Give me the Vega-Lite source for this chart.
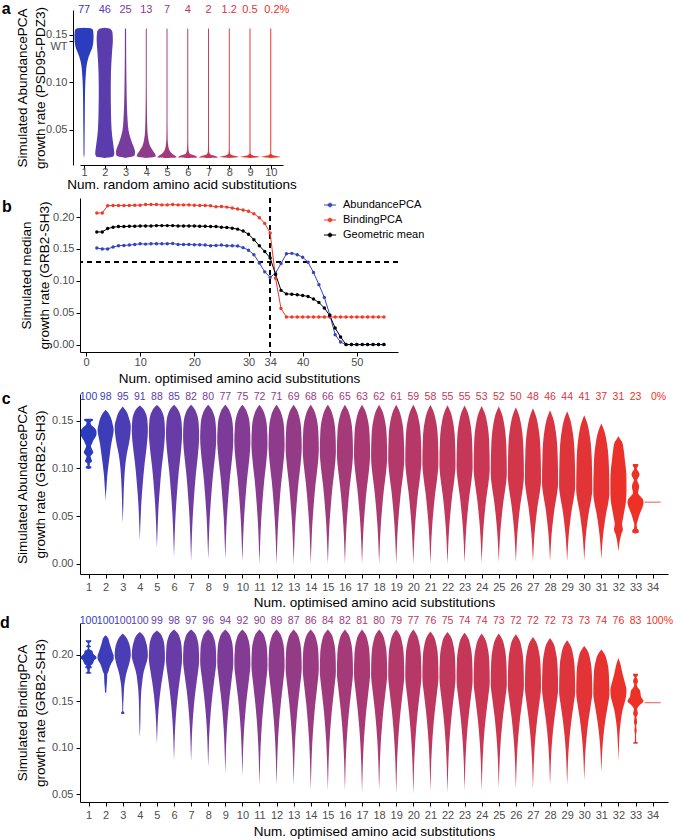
{
"$schema": "https://vega.github.io/schema/vega-lite/v6.json",
"padding": {"left": 0, "top": 1, "right": 4, "bottom": 2},
"align": "none",
"spacing": 6,
"config": {
 "font": "Liberation Sans",
 "view": {"stroke": null},
 "axis": {"grid": false, "domainColor": "#000", "tickColor": "#000", "labelColor": "#4D4D4D", "labelFontSize": 11, "titleFontSize": 13.5, "titleFontWeight": "normal", "titleColor": "#000", "tickSize": 4, "labelFont": "Liberation Sans", "titleFont": "Liberation Sans", "titleLineHeight": 18, "labelOverlap": false, "labelFlush": false, "labelBound": false, "tickCount": 40},
 "title": {"fontSize": 16, "fontWeight": "bold", "color": "#000", "font": "Liberation Sans"},
 "text": {"font": "Liberation Sans"}
},
"resolve": {"scale": {"color": "independent"}, "legend": {"color": "independent"}},
"datasets": {
 "va": [
  {"n":1,"g":0.1576,"w":0},{"n":1,"g":0.157,"w":0.7},{"n":1,"g":0.155,"w":0.95},{"n":1,"g":0.148,"w":1},{"n":1,"g":0.142,"w":0.97},{"n":1,"g":0.136,"w":0.85},{"n":1,"g":0.13,"w":0.6},{"n":1,"g":0.124,"w":0.4},{"n":1,"g":0.118,"w":0.28},{"n":1,"g":0.11,"w":0.2},{"n":1,"g":0.1,"w":0.14},{"n":1,"g":0.085,"w":0.1},{"n":1,"g":0.06,"w":0.08},{"n":1,"g":0.04,"w":0.06},{"n":1,"g":0.025,"w":0.05},{"n":1,"g":0.0205,"w":0},
  {"n":2,"g":0.1576,"w":0},{"n":2,"g":0.1565,"w":0.55},{"n":2,"g":0.153,"w":0.8},{"n":2,"g":0.145,"w":0.85},{"n":2,"g":0.13,"w":0.75},{"n":2,"g":0.11,"w":0.65},{"n":2,"g":0.09,"w":0.63},{"n":2,"g":0.07,"w":0.65},{"n":2,"g":0.05,"w":0.72},{"n":2,"g":0.04,"w":0.82},{"n":2,"g":0.03,"w":0.95},{"n":2,"g":0.025,"w":1},{"n":2,"g":0.022,"w":0.9},{"n":2,"g":0.0205,"w":0},
  {"n":3,"g":0.1574,"w":0},{"n":3,"g":0.156,"w":0.06},{"n":3,"g":0.13,"w":0.07},{"n":3,"g":0.1,"w":0.1},{"n":3,"g":0.078,"w":0.14},{"n":3,"g":0.06,"w":0.22},{"n":3,"g":0.05,"w":0.31},{"n":3,"g":0.042,"w":0.5},{"n":3,"g":0.036,"w":0.7},{"n":3,"g":0.031,"w":0.9},{"n":3,"g":0.027,"w":1},{"n":3,"g":0.023,"w":0.95},{"n":3,"g":0.0205,"w":0},
  {"n":4,"g":0.1574,"w":0},{"n":4,"g":0.156,"w":0.05},{"n":4,"g":0.1,"w":0.05},{"n":4,"g":0.07,"w":0.07},{"n":4,"g":0.05,"w":0.12},{"n":4,"g":0.04,"w":0.22},{"n":4,"g":0.033,"w":0.4},{"n":4,"g":0.028,"w":0.7},{"n":4,"g":0.025,"w":0.9},{"n":4,"g":0.022,"w":1},{"n":4,"g":0.0205,"w":0},
  {"n":5,"g":0.1574,"w":0},{"n":5,"g":0.156,"w":0.05},{"n":5,"g":0.06,"w":0.05},{"n":5,"g":0.04,"w":0.07},{"n":5,"g":0.032,"w":0.15},{"n":5,"g":0.027,"w":0.35},{"n":5,"g":0.024,"w":0.65},{"n":5,"g":0.022,"w":0.95},{"n":5,"g":0.021,"w":1},{"n":5,"g":0.0205,"w":0},
  {"n":6,"g":0.1574,"w":0},{"n":6,"g":0.156,"w":0.05},{"n":6,"g":0.04,"w":0.05},{"n":6,"g":0.03,"w":0.07},{"n":6,"g":0.026,"w":0.15},{"n":6,"g":0.024,"w":0.4},{"n":6,"g":0.0225,"w":0.85},{"n":6,"g":0.021,"w":1},{"n":6,"g":0.0205,"w":0},
  {"n":7,"g":0.1574,"w":0},{"n":7,"g":0.156,"w":0.05},{"n":7,"g":0.035,"w":0.05},{"n":7,"g":0.027,"w":0.07},{"n":7,"g":0.024,"w":0.2},{"n":7,"g":0.0225,"w":0.7},{"n":7,"g":0.021,"w":1},{"n":7,"g":0.0205,"w":0},
  {"n":8,"g":0.1574,"w":0},{"n":8,"g":0.156,"w":0.05},{"n":8,"g":0.03,"w":0.05},{"n":8,"g":0.025,"w":0.08},{"n":8,"g":0.023,"w":0.4},{"n":8,"g":0.0215,"w":1},{"n":8,"g":0.0205,"w":0},
  {"n":9,"g":0.1574,"w":0},{"n":9,"g":0.156,"w":0.05},{"n":9,"g":0.03,"w":0.05},{"n":9,"g":0.025,"w":0.06},{"n":9,"g":0.023,"w":0.3},{"n":9,"g":0.0215,"w":1},{"n":9,"g":0.0205,"w":0},
  {"n":10,"g":0.1574,"w":0},{"n":10,"g":0.156,"w":0.05},{"n":10,"g":0.03,"w":0.05},{"n":10,"g":0.025,"w":0.05},{"n":10,"g":0.023,"w":0.3},{"n":10,"g":0.0215,"w":1},{"n":10,"g":0.0205,"w":0}
 ],
 "la": [{"n":1,"t":"77"},{"n":2,"t":"46"},{"n":3,"t":"25"},{"n":4,"t":"13"},{"n":5,"t":"7"},{"n":6,"t":"4"},{"n":7,"t":"2"},{"n":8,"t":"1.2"},{"n":9,"t":"0.5"},{"n":10,"t":"0.2%"}],
 "pb": [
  {"n":2,"s":"AbundancePCA","v":0.1514},{"n":3,"s":"AbundancePCA","v":0.150},{"n":4,"s":"AbundancePCA","v":0.150},{"n":5,"s":"AbundancePCA","v":0.153},{"n":6,"s":"AbundancePCA","v":0.155},{"n":7,"s":"AbundancePCA","v":0.1555},{"n":8,"s":"AbundancePCA","v":0.156},{"n":9,"s":"AbundancePCA","v":0.157},{"n":10,"s":"AbundancePCA","v":0.158},{"n":11,"s":"AbundancePCA","v":0.1575},{"n":12,"s":"AbundancePCA","v":0.158},{"n":13,"s":"AbundancePCA","v":0.158},{"n":14,"s":"AbundancePCA","v":0.158},{"n":15,"s":"AbundancePCA","v":0.158},{"n":16,"s":"AbundancePCA","v":0.1585},{"n":17,"s":"AbundancePCA","v":0.157},{"n":18,"s":"AbundancePCA","v":0.157},{"n":19,"s":"AbundancePCA","v":0.157},{"n":20,"s":"AbundancePCA","v":0.1565},{"n":21,"s":"AbundancePCA","v":0.1565},{"n":22,"s":"AbundancePCA","v":0.156},{"n":23,"s":"AbundancePCA","v":0.155},{"n":24,"s":"AbundancePCA","v":0.1555},{"n":25,"s":"AbundancePCA","v":0.156},{"n":26,"s":"AbundancePCA","v":0.1548},{"n":27,"s":"AbundancePCA","v":0.155},{"n":28,"s":"AbundancePCA","v":0.1545},{"n":29,"s":"AbundancePCA","v":0.152},{"n":30,"s":"AbundancePCA","v":0.148},{"n":31,"s":"AbundancePCA","v":0.141},{"n":32,"s":"AbundancePCA","v":0.128},{"n":33,"s":"AbundancePCA","v":0.114},{"n":34,"s":"AbundancePCA","v":0.1055},{"n":35,"s":"AbundancePCA","v":0.112},{"n":36,"s":"AbundancePCA","v":0.127},{"n":37,"s":"AbundancePCA","v":0.1425},{"n":38,"s":"AbundancePCA","v":0.143},{"n":39,"s":"AbundancePCA","v":0.141},{"n":40,"s":"AbundancePCA","v":0.137},{"n":41,"s":"AbundancePCA","v":0.129},{"n":42,"s":"AbundancePCA","v":0.113},{"n":43,"s":"AbundancePCA","v":0.094},{"n":44,"s":"AbundancePCA","v":0.074},{"n":45,"s":"AbundancePCA","v":0.047},{"n":46,"s":"AbundancePCA","v":0.0155},{"n":47,"s":"AbundancePCA","v":0.004},{"n":48,"s":"AbundancePCA","v":0},{"n":49,"s":"AbundancePCA","v":0},{"n":50,"s":"AbundancePCA","v":0},{"n":51,"s":"AbundancePCA","v":0},{"n":52,"s":"AbundancePCA","v":0},{"n":53,"s":"AbundancePCA","v":0},{"n":54,"s":"AbundancePCA","v":0},{"n":55,"s":"AbundancePCA","v":0},
  {"n":2,"s":"BindingPCA","v":0.2063},{"n":3,"s":"BindingPCA","v":0.2063},{"n":4,"s":"BindingPCA","v":0.2178},{"n":5,"s":"BindingPCA","v":0.218},{"n":6,"s":"BindingPCA","v":0.218},{"n":7,"s":"BindingPCA","v":0.218},{"n":8,"s":"BindingPCA","v":0.218},{"n":9,"s":"BindingPCA","v":0.2185},{"n":10,"s":"BindingPCA","v":0.2185},{"n":11,"s":"BindingPCA","v":0.2195},{"n":12,"s":"BindingPCA","v":0.2195},{"n":13,"s":"BindingPCA","v":0.2195},{"n":14,"s":"BindingPCA","v":0.219},{"n":15,"s":"BindingPCA","v":0.219},{"n":16,"s":"BindingPCA","v":0.2195},{"n":17,"s":"BindingPCA","v":0.219},{"n":18,"s":"BindingPCA","v":0.219},{"n":19,"s":"BindingPCA","v":0.219},{"n":20,"s":"BindingPCA","v":0.2185},{"n":21,"s":"BindingPCA","v":0.218},{"n":22,"s":"BindingPCA","v":0.218},{"n":23,"s":"BindingPCA","v":0.2175},{"n":24,"s":"BindingPCA","v":0.216},{"n":25,"s":"BindingPCA","v":0.2165},{"n":26,"s":"BindingPCA","v":0.2155},{"n":27,"s":"BindingPCA","v":0.214},{"n":28,"s":"BindingPCA","v":0.2125},{"n":29,"s":"BindingPCA","v":0.211},{"n":30,"s":"BindingPCA","v":0.209},{"n":31,"s":"BindingPCA","v":0.205},{"n":32,"s":"BindingPCA","v":0.199},{"n":33,"s":"BindingPCA","v":0.19},{"n":34,"s":"BindingPCA","v":0.175},{"n":35,"s":"BindingPCA","v":0.104},{"n":36,"s":"BindingPCA","v":0.0565},{"n":37,"s":"BindingPCA","v":0.0433},{"n":38,"s":"BindingPCA","v":0.0433},{"n":39,"s":"BindingPCA","v":0.0433},{"n":40,"s":"BindingPCA","v":0.0433},{"n":41,"s":"BindingPCA","v":0.0433},{"n":42,"s":"BindingPCA","v":0.0433},{"n":43,"s":"BindingPCA","v":0.0433},{"n":44,"s":"BindingPCA","v":0.0433},{"n":45,"s":"BindingPCA","v":0.0433},{"n":46,"s":"BindingPCA","v":0.0433},{"n":47,"s":"BindingPCA","v":0.0433},{"n":48,"s":"BindingPCA","v":0.0433},{"n":49,"s":"BindingPCA","v":0.0433},{"n":50,"s":"BindingPCA","v":0.0433},{"n":51,"s":"BindingPCA","v":0.0433},{"n":52,"s":"BindingPCA","v":0.0433},{"n":53,"s":"BindingPCA","v":0.0433},{"n":54,"s":"BindingPCA","v":0.0433},{"n":55,"s":"BindingPCA","v":0.0433},
  {"n":2,"s":"Geometric mean","v":0.1766},{"n":3,"s":"Geometric mean","v":0.1766},{"n":4,"s":"Geometric mean","v":0.182},{"n":5,"s":"Geometric mean","v":0.184},{"n":6,"s":"Geometric mean","v":0.185},{"n":7,"s":"Geometric mean","v":0.185},{"n":8,"s":"Geometric mean","v":0.1855},{"n":9,"s":"Geometric mean","v":0.1855},{"n":10,"s":"Geometric mean","v":0.186},{"n":11,"s":"Geometric mean","v":0.186},{"n":12,"s":"Geometric mean","v":0.186},{"n":13,"s":"Geometric mean","v":0.1865},{"n":14,"s":"Geometric mean","v":0.1865},{"n":15,"s":"Geometric mean","v":0.1865},{"n":16,"s":"Geometric mean","v":0.1865},{"n":17,"s":"Geometric mean","v":0.186},{"n":18,"s":"Geometric mean","v":0.186},{"n":19,"s":"Geometric mean","v":0.186},{"n":20,"s":"Geometric mean","v":0.186},{"n":21,"s":"Geometric mean","v":0.1855},{"n":22,"s":"Geometric mean","v":0.1855},{"n":23,"s":"Geometric mean","v":0.185},{"n":24,"s":"Geometric mean","v":0.185},{"n":25,"s":"Geometric mean","v":0.184},{"n":26,"s":"Geometric mean","v":0.1835},{"n":27,"s":"Geometric mean","v":0.1825},{"n":28,"s":"Geometric mean","v":0.181},{"n":29,"s":"Geometric mean","v":0.178},{"n":30,"s":"Geometric mean","v":0.173},{"n":31,"s":"Geometric mean","v":0.1645},{"n":32,"s":"Geometric mean","v":0.155},{"n":33,"s":"Geometric mean","v":0.146},{"n":34,"s":"Geometric mean","v":0.1357},{"n":35,"s":"Geometric mean","v":0.11},{"n":36,"s":"Geometric mean","v":0.085},{"n":37,"s":"Geometric mean","v":0.0795},{"n":38,"s":"Geometric mean","v":0.079},{"n":39,"s":"Geometric mean","v":0.078},{"n":40,"s":"Geometric mean","v":0.077},{"n":41,"s":"Geometric mean","v":0.0755},{"n":42,"s":"Geometric mean","v":0.0715},{"n":43,"s":"Geometric mean","v":0.066},{"n":44,"s":"Geometric mean","v":0.0574},{"n":45,"s":"Geometric mean","v":0.0455},{"n":46,"s":"Geometric mean","v":0.026},{"n":47,"s":"Geometric mean","v":0.012},{"n":48,"s":"Geometric mean","v":0},{"n":49,"s":"Geometric mean","v":0},{"n":50,"s":"Geometric mean","v":0},{"n":51,"s":"Geometric mean","v":0},{"n":52,"s":"Geometric mean","v":0},{"n":53,"s":"Geometric mean","v":0},{"n":54,"s":"Geometric mean","v":0},{"n":55,"s":"Geometric mean","v":0}
 ],
 "vc": [
  {"n":1,"g":0.152,"w":0},{"n":1,"g":0.1518,"w":0.55},{"n":1,"g":0.1505,"w":0.55},{"n":1,"g":0.1485,"w":0.25},{"n":1,"g":0.146,"w":0.3},{"n":1,"g":0.143,"w":0.7},{"n":1,"g":0.14,"w":0.95},{"n":1,"g":0.1365,"w":1},{"n":1,"g":0.1335,"w":0.9},{"n":1,"g":0.1295,"w":0.6},{"n":1,"g":0.1265,"w":0.45},{"n":1,"g":0.1235,"w":0.3},{"n":1,"g":0.12,"w":0.45},{"n":1,"g":0.117,"w":0.6},{"n":1,"g":0.1145,"w":0.4},{"n":1,"g":0.1128,"w":0.25},{"n":1,"g":0.11,"w":0.35},{"n":1,"g":0.1075,"w":0.45},{"n":1,"g":0.105,"w":0.15},{"n":1,"g":0.1025,"w":0.15},{"n":1,"g":0.1018,"w":0.35},{"n":1,"g":0.1005,"w":0.35},{"n":1,"g":0.0995,"w":0},
  {"n":2,"g":0.1615,"w":0},{"n":2,"g":0.158,"w":0.35},{"n":2,"g":0.153,"w":0.65},{"n":2,"g":0.147,"w":0.85},{"n":2,"g":0.14,"w":1},{"n":2,"g":0.134,"w":0.9},{"n":2,"g":0.128,"w":0.75},{"n":2,"g":0.12,"w":0.6},{"n":2,"g":0.11,"w":0.45},{"n":2,"g":0.1,"w":0.3},{"n":2,"g":0.092,"w":0.2},{"n":2,"g":0.082,"w":0.12},{"n":2,"g":0.075,"w":0.06},{"n":2,"g":0.066,"w":0},
  {"n":3,"g":0.165,"w":0},{"n":3,"g":0.16,"w":0.45},{"n":3,"g":0.152,"w":0.8},{"n":3,"g":0.144,"w":1},{"n":3,"g":0.136,"w":0.95},{"n":3,"g":0.125,"w":0.75},{"n":3,"g":0.115,"w":0.5},{"n":3,"g":0.1,"w":0.28},{"n":3,"g":0.09,"w":0.2},{"n":3,"g":0.075,"w":0.12},{"n":3,"g":0.06,"w":0.07},{"n":3,"g":0.043,"w":0},
  {"n":4,"g":0.166,"w":0},{"n":4,"g":0.1634,"w":0.35},{"n":4,"g":0.1582,"w":0.72},{"n":4,"g":0.1504,"w":0.94},{"n":4,"g":0.14,"w":1},{"n":4,"g":0.1228,"w":0.85},{"n":4,"g":0.1055,"w":0.6},{"n":4,"g":0.0825,"w":0.35},{"n":4,"g":0.0653,"w":0.2},{"n":4,"g":0.048,"w":0.1},{"n":4,"g":0.0342,"w":0.04},{"n":4,"g":0.025,"w":0},
  {"n":5,"g":0.1665,"w":0},{"n":5,"g":0.1637,"w":0.35},{"n":5,"g":0.158,"w":0.72},{"n":5,"g":0.1494,"w":0.94},{"n":5,"g":0.138,"w":1},{"n":5,"g":0.1199,"w":0.85},{"n":5,"g":0.1017,"w":0.6},{"n":5,"g":0.0775,"w":0.35},{"n":5,"g":0.0594,"w":0.2},{"n":5,"g":0.0412,"w":0.1},{"n":5,"g":0.0267,"w":0.04},{"n":5,"g":0.017,"w":0},
  {"n":6,"g":0.1667,"w":0},{"n":6,"g":0.1636,"w":0.35},{"n":6,"g":0.1575,"w":0.72},{"n":6,"g":0.1483,"w":0.94},{"n":6,"g":0.136,"w":1},{"n":6,"g":0.1167,"w":0.85},{"n":6,"g":0.0974,"w":0.6},{"n":6,"g":0.0717,"w":0.35},{"n":6,"g":0.0524,"w":0.2},{"n":6,"g":0.0331,"w":0.1},{"n":6,"g":0.0177,"w":0.04},{"n":6,"g":0.0074,"w":0},
  {"n":7,"g":0.1667,"w":0},{"n":7,"g":0.1634,"w":0.35},{"n":7,"g":0.1569,"w":0.72},{"n":7,"g":0.1471,"w":0.94},{"n":7,"g":0.134,"w":1},{"n":7,"g":0.1143,"w":0.85},{"n":7,"g":0.0947,"w":0.6},{"n":7,"g":0.0685,"w":0.35},{"n":7,"g":0.0489,"w":0.2},{"n":7,"g":0.0292,"w":0.1},{"n":7,"g":0.0135,"w":0.04},{"n":7,"g":0.003,"w":0},
  {"n":8,"g":0.1667,"w":0},{"n":8,"g":0.1632,"w":0.35},{"n":8,"g":0.1563,"w":0.72},{"n":8,"g":0.1459,"w":0.94},{"n":8,"g":0.132,"w":1},{"n":8,"g":0.1129,"w":0.85},{"n":8,"g":0.0938,"w":0.6},{"n":8,"g":0.0683,"w":0.35},{"n":8,"g":0.0492,"w":0.2},{"n":8,"g":0.0301,"w":0.1},{"n":8,"g":0.0148,"w":0.04},{"n":8,"g":0.0046,"w":0},
  {"n":9,"g":0.1667,"w":0},{"n":9,"g":0.163,"w":0.35},{"n":9,"g":0.1557,"w":0.72},{"n":9,"g":0.1447,"w":0.94},{"n":9,"g":0.13,"w":1},{"n":9,"g":0.1113,"w":0.85},{"n":9,"g":0.0925,"w":0.6},{"n":9,"g":0.0675,"w":0.35},{"n":9,"g":0.0488,"w":0.2},{"n":9,"g":0.03,"w":0.1},{"n":9,"g":0.015,"w":0.04},{"n":9,"g":0.005,"w":0},
  {"n":10,"g":0.1667,"w":0},{"n":10,"g":0.1628,"w":0.35},{"n":10,"g":0.1551,"w":0.72},{"n":10,"g":0.1435,"w":0.94},{"n":10,"g":0.128,"w":1},{"n":10,"g":0.1092,"w":0.85},{"n":10,"g":0.0904,"w":0.6},{"n":10,"g":0.0653,"w":0.35},{"n":10,"g":0.0464,"w":0.2},{"n":10,"g":0.0276,"w":0.1},{"n":10,"g":0.0125,"w":0.04},{"n":10,"g":0.0025,"w":0},
  {"n":11,"g":0.1667,"w":0},{"n":11,"g":0.1626,"w":0.35},{"n":11,"g":0.1545,"w":0.72},{"n":11,"g":0.1423,"w":0.94},{"n":11,"g":0.126,"w":1},{"n":11,"g":0.1071,"w":0.85},{"n":11,"g":0.0882,"w":0.6},{"n":11,"g":0.063,"w":0.35},{"n":11,"g":0.0441,"w":0.2},{"n":11,"g":0.0252,"w":0.1},{"n":11,"g":0.0101,"w":0.04},{"n":11,"g":0,"w":0},
  {"n":12,"g":0.1667,"w":0},{"n":12,"g":0.1624,"w":0.35},{"n":12,"g":0.1539,"w":0.72},{"n":12,"g":0.1411,"w":0.94},{"n":12,"g":0.124,"w":1},{"n":12,"g":0.1054,"w":0.85},{"n":12,"g":0.0868,"w":0.6},{"n":12,"g":0.062,"w":0.35},{"n":12,"g":0.0434,"w":0.2},{"n":12,"g":0.0248,"w":0.1},{"n":12,"g":0.0099,"w":0.04},{"n":12,"g":0,"w":0},
  {"n":13,"g":0.1667,"w":0},{"n":13,"g":0.1622,"w":0.35},{"n":13,"g":0.1533,"w":0.72},{"n":13,"g":0.1399,"w":0.94},{"n":13,"g":0.122,"w":1},{"n":13,"g":0.1037,"w":0.85},{"n":13,"g":0.0854,"w":0.6},{"n":13,"g":0.061,"w":0.35},{"n":13,"g":0.0427,"w":0.2},{"n":13,"g":0.0244,"w":0.1},{"n":13,"g":0.0098,"w":0.04},{"n":13,"g":0,"w":0},
  {"n":14,"g":0.1667,"w":0},{"n":14,"g":0.162,"w":0.35},{"n":14,"g":0.1527,"w":0.72},{"n":14,"g":0.1387,"w":0.94},{"n":14,"g":0.12,"w":1},{"n":14,"g":0.102,"w":0.85},{"n":14,"g":0.084,"w":0.6},{"n":14,"g":0.06,"w":0.35},{"n":14,"g":0.042,"w":0.2},{"n":14,"g":0.024,"w":0.1},{"n":14,"g":0.0096,"w":0.04},{"n":14,"g":0,"w":0},
  {"n":15,"g":0.1667,"w":0},{"n":15,"g":0.1618,"w":0.35},{"n":15,"g":0.1521,"w":0.72},{"n":15,"g":0.1375,"w":0.94},{"n":15,"g":0.118,"w":1},{"n":15,"g":0.1003,"w":0.85},{"n":15,"g":0.0826,"w":0.6},{"n":15,"g":0.059,"w":0.35},{"n":15,"g":0.0413,"w":0.2},{"n":15,"g":0.0236,"w":0.1},{"n":15,"g":0.0094,"w":0.04},{"n":15,"g":0,"w":0},
  {"n":16,"g":0.1667,"w":0},{"n":16,"g":0.1616,"w":0.35},{"n":16,"g":0.1515,"w":0.72},{"n":16,"g":0.1363,"w":0.94},{"n":16,"g":0.116,"w":1},{"n":16,"g":0.0986,"w":0.85},{"n":16,"g":0.0812,"w":0.6},{"n":16,"g":0.058,"w":0.35},{"n":16,"g":0.0406,"w":0.2},{"n":16,"g":0.0232,"w":0.1},{"n":16,"g":0.0093,"w":0.04},{"n":16,"g":0,"w":0},
  {"n":17,"g":0.1667,"w":0},{"n":17,"g":0.1614,"w":0.35},{"n":17,"g":0.1509,"w":0.72},{"n":17,"g":0.1351,"w":0.94},{"n":17,"g":0.114,"w":1},{"n":17,"g":0.0969,"w":0.85},{"n":17,"g":0.0798,"w":0.6},{"n":17,"g":0.057,"w":0.35},{"n":17,"g":0.0399,"w":0.2},{"n":17,"g":0.0228,"w":0.1},{"n":17,"g":0.0091,"w":0.04},{"n":17,"g":0,"w":0},
  {"n":18,"g":0.1667,"w":0},{"n":18,"g":0.1612,"w":0.35},{"n":18,"g":0.1503,"w":0.72},{"n":18,"g":0.1339,"w":0.94},{"n":18,"g":0.112,"w":1},{"n":18,"g":0.0952,"w":0.85},{"n":18,"g":0.0784,"w":0.6},{"n":18,"g":0.056,"w":0.35},{"n":18,"g":0.0392,"w":0.2},{"n":18,"g":0.0224,"w":0.1},{"n":18,"g":0.009,"w":0.04},{"n":18,"g":0,"w":0},
  {"n":19,"g":0.1667,"w":0},{"n":19,"g":0.161,"w":0.35},{"n":19,"g":0.1497,"w":0.72},{"n":19,"g":0.1327,"w":0.94},{"n":19,"g":0.11,"w":1},{"n":19,"g":0.0935,"w":0.85},{"n":19,"g":0.077,"w":0.6},{"n":19,"g":0.055,"w":0.35},{"n":19,"g":0.0385,"w":0.2},{"n":19,"g":0.022,"w":0.1},{"n":19,"g":0.0088,"w":0.04},{"n":19,"g":0,"w":0},
  {"n":20,"g":0.1667,"w":0},{"n":20,"g":0.1608,"w":0.35},{"n":20,"g":0.1491,"w":0.72},{"n":20,"g":0.1315,"w":0.94},{"n":20,"g":0.108,"w":1},{"n":20,"g":0.0918,"w":0.85},{"n":20,"g":0.0756,"w":0.6},{"n":20,"g":0.054,"w":0.35},{"n":20,"g":0.0378,"w":0.2},{"n":20,"g":0.0216,"w":0.1},{"n":20,"g":0.0086,"w":0.04},{"n":20,"g":0,"w":0},
  {"n":21,"g":0.1665,"w":0},{"n":21,"g":0.1605,"w":0.35},{"n":21,"g":0.1484,"w":0.72},{"n":21,"g":0.1302,"w":0.94},{"n":21,"g":0.106,"w":1},{"n":21,"g":0.0901,"w":0.85},{"n":21,"g":0.0742,"w":0.6},{"n":21,"g":0.053,"w":0.35},{"n":21,"g":0.0371,"w":0.2},{"n":21,"g":0.0212,"w":0.1},{"n":21,"g":0.0085,"w":0.04},{"n":21,"g":0,"w":0},
  {"n":22,"g":0.1662,"w":0},{"n":22,"g":0.16,"w":0.35},{"n":22,"g":0.1475,"w":0.72},{"n":22,"g":0.1289,"w":0.94},{"n":22,"g":0.104,"w":1},{"n":22,"g":0.0884,"w":0.85},{"n":22,"g":0.0728,"w":0.6},{"n":22,"g":0.052,"w":0.35},{"n":22,"g":0.0364,"w":0.2},{"n":22,"g":0.0208,"w":0.1},{"n":22,"g":0.0083,"w":0.04},{"n":22,"g":0,"w":0},
  {"n":23,"g":0.166,"w":0},{"n":23,"g":0.1596,"w":0.35},{"n":23,"g":0.1468,"w":0.72},{"n":23,"g":0.1276,"w":0.94},{"n":23,"g":0.102,"w":1},{"n":23,"g":0.0869,"w":0.85},{"n":23,"g":0.0717,"w":0.6},{"n":23,"g":0.0515,"w":0.35},{"n":23,"g":0.0364,"w":0.2},{"n":23,"g":0.0212,"w":0.1},{"n":23,"g":0.0091,"w":0.04},{"n":23,"g":0.001,"w":0},
  {"n":24,"g":0.1655,"w":0},{"n":24,"g":0.1589,"w":0.35},{"n":24,"g":0.1459,"w":0.72},{"n":24,"g":0.1262,"w":0.94},{"n":24,"g":0.1,"w":1},{"n":24,"g":0.0852,"w":0.85},{"n":24,"g":0.0703,"w":0.6},{"n":24,"g":0.0505,"w":0.35},{"n":24,"g":0.0357,"w":0.2},{"n":24,"g":0.0208,"w":0.1},{"n":24,"g":0.0089,"w":0.04},{"n":24,"g":0.001,"w":0},
  {"n":25,"g":0.165,"w":0},{"n":25,"g":0.158,"w":0.35},{"n":25,"g":0.144,"w":0.72},{"n":25,"g":0.123,"w":0.94},{"n":25,"g":0.095,"w":1},{"n":25,"g":0.0811,"w":0.85},{"n":25,"g":0.0671,"w":0.6},{"n":25,"g":0.0485,"w":0.35},{"n":25,"g":0.0346,"w":0.2},{"n":25,"g":0.0206,"w":0.1},{"n":25,"g":0.0094,"w":0.04},{"n":25,"g":0.002,"w":0},
  {"n":26,"g":0.164,"w":0},{"n":26,"g":0.1568,"w":0.35},{"n":26,"g":0.1424,"w":0.72},{"n":26,"g":0.1208,"w":0.94},{"n":26,"g":0.092,"w":1},{"n":26,"g":0.0785,"w":0.85},{"n":26,"g":0.065,"w":0.6},{"n":26,"g":0.047,"w":0.35},{"n":26,"g":0.0335,"w":0.2},{"n":26,"g":0.02,"w":0.1},{"n":26,"g":0.0092,"w":0.04},{"n":26,"g":0.002,"w":0},
  {"n":27,"g":0.163,"w":0},{"n":27,"g":0.1555,"w":0.35},{"n":27,"g":0.1405,"w":0.72},{"n":27,"g":0.118,"w":0.94},{"n":27,"g":0.088,"w":1},{"n":27,"g":0.0751,"w":0.85},{"n":27,"g":0.0622,"w":0.6},{"n":27,"g":0.045,"w":0.35},{"n":27,"g":0.0321,"w":0.2},{"n":27,"g":0.0192,"w":0.1},{"n":27,"g":0.0089,"w":0.04},{"n":27,"g":0.002,"w":0},
  {"n":28,"g":0.161,"w":0},{"n":28,"g":0.1534,"w":0.35},{"n":28,"g":0.1382,"w":0.72},{"n":28,"g":0.1154,"w":0.94},{"n":28,"g":0.085,"w":1},{"n":28,"g":0.0727,"w":0.85},{"n":28,"g":0.0604,"w":0.6},{"n":28,"g":0.044,"w":0.35},{"n":28,"g":0.0317,"w":0.2},{"n":28,"g":0.0194,"w":0.1},{"n":28,"g":0.0096,"w":0.04},{"n":28,"g":0.003,"w":0},
  {"n":29,"g":0.16,"w":0},{"n":29,"g":0.1522,"w":0.35},{"n":29,"g":0.1366,"w":0.72},{"n":29,"g":0.1132,"w":0.94},{"n":29,"g":0.082,"w":1},{"n":29,"g":0.0701,"w":0.85},{"n":29,"g":0.0583,"w":0.6},{"n":29,"g":0.0425,"w":0.35},{"n":29,"g":0.0307,"w":0.2},{"n":29,"g":0.0188,"w":0.1},{"n":29,"g":0.0093,"w":0.04},{"n":29,"g":0.003,"w":0},
  {"n":30,"g":0.1557,"w":0},{"n":30,"g":0.148,"w":0.35},{"n":30,"g":0.1324,"w":0.72},{"n":30,"g":0.1091,"w":0.94},{"n":30,"g":0.078,"w":1},{"n":30,"g":0.0668,"w":0.85},{"n":30,"g":0.0557,"w":0.6},{"n":30,"g":0.0408,"w":0.35},{"n":30,"g":0.0296,"w":0.2},{"n":30,"g":0.0185,"w":0.1},{"n":30,"g":0.0096,"w":0.04},{"n":30,"g":0.0036,"w":0},
  {"n":31,"g":0.147,"w":0},{"n":31,"g":0.1397,"w":0.35},{"n":31,"g":0.1251,"w":0.72},{"n":31,"g":0.1032,"w":0.94},{"n":31,"g":0.074,"w":1},{"n":31,"g":0.0636,"w":0.85},{"n":31,"g":0.0532,"w":0.6},{"n":31,"g":0.0393,"w":0.35},{"n":31,"g":0.0289,"w":0.2},{"n":31,"g":0.0185,"w":0.1},{"n":31,"g":0.0102,"w":0.04},{"n":31,"g":0.0046,"w":0},
  {"n":32,"g":0.1337,"w":0},{"n":32,"g":0.131,"w":0.2},{"n":32,"g":0.128,"w":0.45},{"n":32,"g":0.12,"w":0.65},{"n":32,"g":0.109,"w":0.8},{"n":32,"g":0.098,"w":0.95},{"n":32,"g":0.088,"w":1},{"n":32,"g":0.076,"w":1},{"n":32,"g":0.064,"w":0.92},{"n":32,"g":0.055,"w":0.72},{"n":32,"g":0.0466,"w":0.55},{"n":32,"g":0.042,"w":0.45},{"n":32,"g":0.036,"w":0.55},{"n":32,"g":0.031,"w":0.35},{"n":32,"g":0.0255,"w":0.2},{"n":32,"g":0.019,"w":0.08},{"n":32,"g":0.0134,"w":0},
  {"n":33,"g":0.1047,"w":0},{"n":33,"g":0.1045,"w":0.35},{"n":33,"g":0.103,"w":0.35},{"n":33,"g":0.1,"w":0.15},{"n":33,"g":0.097,"w":0.35},{"n":33,"g":0.0935,"w":0.5},{"n":33,"g":0.0905,"w":0.35},{"n":33,"g":0.0876,"w":0.2},{"n":33,"g":0.0845,"w":0.35},{"n":33,"g":0.0814,"w":0.45},{"n":33,"g":0.078,"w":0.4},{"n":33,"g":0.0744,"w":0.3},{"n":33,"g":0.071,"w":0.6},{"n":33,"g":0.0673,"w":0.95},{"n":33,"g":0.064,"w":1},{"n":33,"g":0.0605,"w":0.9},{"n":33,"g":0.056,"w":0.7},{"n":33,"g":0.0517,"w":0.5},{"n":33,"g":0.046,"w":0.3},{"n":33,"g":0.0412,"w":0.15},{"n":33,"g":0.037,"w":0.2},{"n":33,"g":0.0357,"w":0.4},{"n":33,"g":0.033,"w":0.4},{"n":33,"g":0.0318,"w":0}
 ],
 "rc": [{"n":34,"g":0.0647,"w":1}],
 "lc": [{"n":1,"t":"100"},{"n":2,"t":"98"},{"n":3,"t":"95"},{"n":4,"t":"91"},{"n":5,"t":"88"},{"n":6,"t":"85"},{"n":7,"t":"82"},{"n":8,"t":"80"},{"n":9,"t":"77"},{"n":10,"t":"75"},{"n":11,"t":"72"},{"n":12,"t":"71"},{"n":13,"t":"69"},{"n":14,"t":"68"},{"n":15,"t":"66"},{"n":16,"t":"65"},{"n":17,"t":"63"},{"n":18,"t":"62"},{"n":19,"t":"61"},{"n":20,"t":"59"},{"n":21,"t":"58"},{"n":22,"t":"55"},{"n":23,"t":"55"},{"n":24,"t":"53"},{"n":25,"t":"52"},{"n":26,"t":"50"},{"n":27,"t":"48"},{"n":28,"t":"46"},{"n":29,"t":"44"},{"n":30,"t":"41"},{"n":31,"t":"37"},{"n":32,"t":"31"},{"n":33,"t":"23"},{"n":34,"t":"0%"}],
 "vd": [
  {"n":1,"g":0.2155,"w":0},{"n":1,"g":0.2154,"w":0.35},{"n":1,"g":0.2145,"w":0.35},{"n":1,"g":0.2125,"w":0.1},{"n":1,"g":0.2105,"w":0.1},{"n":1,"g":0.209,"w":0.35},{"n":1,"g":0.2075,"w":0.1},{"n":1,"g":0.206,"w":0.1},{"n":1,"g":0.204,"w":0.5},{"n":1,"g":0.2015,"w":0.55},{"n":1,"g":0.2,"w":0.7},{"n":1,"g":0.1985,"w":0.9},{"n":1,"g":0.197,"w":1},{"n":1,"g":0.1955,"w":0.95},{"n":1,"g":0.194,"w":0.7},{"n":1,"g":0.1915,"w":0.6},{"n":1,"g":0.1895,"w":0.45},{"n":1,"g":0.188,"w":0.25},{"n":1,"g":0.1865,"w":0.45},{"n":1,"g":0.185,"w":0.2},{"n":1,"g":0.1835,"w":0.15},{"n":1,"g":0.1815,"w":0.15},{"n":1,"g":0.1805,"w":0.35},{"n":1,"g":0.1798,"w":0.35},{"n":1,"g":0.1796,"w":0},
  {"n":2,"g":0.2209,"w":0},{"n":2,"g":0.218,"w":0.3},{"n":2,"g":0.2137,"w":0.45},{"n":2,"g":0.2065,"w":0.7},{"n":2,"g":0.2015,"w":0.9},{"n":2,"g":0.199,"w":1},{"n":2,"g":0.1957,"w":1},{"n":2,"g":0.192,"w":0.8},{"n":2,"g":0.1886,"w":0.6},{"n":2,"g":0.185,"w":0.45},{"n":2,"g":0.182,"w":0.35},{"n":2,"g":0.179,"w":0.2},{"n":2,"g":0.174,"w":0.18},{"n":2,"g":0.1688,"w":0.15},{"n":2,"g":0.164,"w":0.1},{"n":2,"g":0.16,"w":0.08},{"n":2,"g":0.1588,"w":0},
  {"n":3,"g":0.2226,"w":0},{"n":3,"g":0.219,"w":0.4},{"n":3,"g":0.213,"w":0.75},{"n":3,"g":0.206,"w":0.95},{"n":3,"g":0.199,"w":1},{"n":3,"g":0.194,"w":0.9},{"n":3,"g":0.1886,"w":0.75},{"n":3,"g":0.183,"w":0.55},{"n":3,"g":0.178,"w":0.4},{"n":3,"g":0.172,"w":0.28},{"n":3,"g":0.167,"w":0.2},{"n":3,"g":0.16,"w":0.14},{"n":3,"g":0.1527,"w":0.1},{"n":3,"g":0.145,"w":0.06},{"n":3,"g":0.1395,"w":0.05},{"n":3,"g":0.138,"w":0.2},{"n":3,"g":0.1365,"w":0.2},{"n":3,"g":0.136,"w":0},
  {"n":4,"g":0.2244,"w":0},{"n":4,"g":0.221,"w":0.4},{"n":4,"g":0.214,"w":0.75},{"n":4,"g":0.206,"w":0.95},{"n":4,"g":0.199,"w":1},{"n":4,"g":0.192,"w":0.85},{"n":4,"g":0.185,"w":0.6},{"n":4,"g":0.178,"w":0.4},{"n":4,"g":0.1706,"w":0.3},{"n":4,"g":0.163,"w":0.2},{"n":4,"g":0.1563,"w":0.15},{"n":4,"g":0.145,"w":0.1},{"n":4,"g":0.1348,"w":0.08},{"n":4,"g":0.122,"w":0.05},{"n":4,"g":0.1115,"w":0},
  {"n":5,"g":0.226,"w":0},{"n":5,"g":0.223,"w":0.4},{"n":5,"g":0.217,"w":0.75},{"n":5,"g":0.208,"w":0.95},{"n":5,"g":0.196,"w":1},{"n":5,"g":0.1822,"w":0.8},{"n":5,"g":0.1685,"w":0.55},{"n":5,"g":0.1547,"w":0.35},{"n":5,"g":0.141,"w":0.2},{"n":5,"g":0.1272,"w":0.1},{"n":5,"g":0.1135,"w":0.04},{"n":5,"g":0.1043,"w":0},
  {"n":6,"g":0.227,"w":0},{"n":6,"g":0.2238,"w":0.4},{"n":6,"g":0.2174,"w":0.75},{"n":6,"g":0.2078,"w":0.95},{"n":6,"g":0.195,"w":1},{"n":6,"g":0.1787,"w":0.8},{"n":6,"g":0.1624,"w":0.55},{"n":6,"g":0.1461,"w":0.35},{"n":6,"g":0.1298,"w":0.2},{"n":6,"g":0.1136,"w":0.1},{"n":6,"g":0.0973,"w":0.04},{"n":6,"g":0.0864,"w":0},
  {"n":7,"g":0.227,"w":0},{"n":7,"g":0.2237,"w":0.4},{"n":7,"g":0.2171,"w":0.75},{"n":7,"g":0.2072,"w":0.95},{"n":7,"g":0.194,"w":1},{"n":7,"g":0.1777,"w":0.8},{"n":7,"g":0.1614,"w":0.55},{"n":7,"g":0.1451,"w":0.35},{"n":7,"g":0.1288,"w":0.2},{"n":7,"g":0.1126,"w":0.1},{"n":7,"g":0.0963,"w":0.04},{"n":7,"g":0.0854,"w":0},
  {"n":8,"g":0.227,"w":0},{"n":8,"g":0.2236,"w":0.4},{"n":8,"g":0.2168,"w":0.75},{"n":8,"g":0.2066,"w":0.95},{"n":8,"g":0.193,"w":1},{"n":8,"g":0.1759,"w":0.8},{"n":8,"g":0.1589,"w":0.55},{"n":8,"g":0.1418,"w":0.35},{"n":8,"g":0.1247,"w":0.2},{"n":8,"g":0.1077,"w":0.1},{"n":8,"g":0.0906,"w":0.04},{"n":8,"g":0.0792,"w":0},
  {"n":9,"g":0.227,"w":0},{"n":9,"g":0.2235,"w":0.4},{"n":9,"g":0.2165,"w":0.75},{"n":9,"g":0.206,"w":0.95},{"n":9,"g":0.192,"w":1},{"n":9,"g":0.174,"w":0.8},{"n":9,"g":0.156,"w":0.55},{"n":9,"g":0.138,"w":0.35},{"n":9,"g":0.12,"w":0.2},{"n":9,"g":0.102,"w":0.1},{"n":9,"g":0.084,"w":0.04},{"n":9,"g":0.072,"w":0},
  {"n":10,"g":0.227,"w":0},{"n":10,"g":0.2233,"w":0.4},{"n":10,"g":0.2159,"w":0.75},{"n":10,"g":0.2048,"w":0.95},{"n":10,"g":0.19,"w":1},{"n":10,"g":0.172,"w":0.8},{"n":10,"g":0.1541,"w":0.55},{"n":10,"g":0.1361,"w":0.35},{"n":10,"g":0.1182,"w":0.2},{"n":10,"g":0.1002,"w":0.1},{"n":10,"g":0.0823,"w":0.04},{"n":10,"g":0.0703,"w":0},
  {"n":11,"g":0.227,"w":0},{"n":11,"g":0.2232,"w":0.4},{"n":11,"g":0.2156,"w":0.75},{"n":11,"g":0.2042,"w":0.95},{"n":11,"g":0.189,"w":1},{"n":11,"g":0.1696,"w":0.8},{"n":11,"g":0.1502,"w":0.55},{"n":11,"g":0.1308,"w":0.35},{"n":11,"g":0.1114,"w":0.2},{"n":11,"g":0.092,"w":0.1},{"n":11,"g":0.0725,"w":0.04},{"n":11,"g":0.0596,"w":0},
  {"n":12,"g":0.227,"w":0},{"n":12,"g":0.2231,"w":0.4},{"n":12,"g":0.2153,"w":0.75},{"n":12,"g":0.2036,"w":0.95},{"n":12,"g":0.188,"w":1},{"n":12,"g":0.1687,"w":0.8},{"n":12,"g":0.1495,"w":0.55},{"n":12,"g":0.1302,"w":0.35},{"n":12,"g":0.111,"w":0.2},{"n":12,"g":0.0917,"w":0.1},{"n":12,"g":0.0724,"w":0.04},{"n":12,"g":0.0596,"w":0},
  {"n":13,"g":0.227,"w":0},{"n":13,"g":0.2229,"w":0.4},{"n":13,"g":0.2147,"w":0.75},{"n":13,"g":0.2024,"w":0.95},{"n":13,"g":0.186,"w":1},{"n":13,"g":0.167,"w":0.8},{"n":13,"g":0.1481,"w":0.55},{"n":13,"g":0.1291,"w":0.35},{"n":13,"g":0.1102,"w":0.2},{"n":13,"g":0.0912,"w":0.1},{"n":13,"g":0.0722,"w":0.04},{"n":13,"g":0.0596,"w":0},
  {"n":14,"g":0.227,"w":0},{"n":14,"g":0.2228,"w":0.4},{"n":14,"g":0.2144,"w":0.75},{"n":14,"g":0.2018,"w":0.95},{"n":14,"g":0.185,"w":1},{"n":14,"g":0.1654,"w":0.8},{"n":14,"g":0.1458,"w":0.55},{"n":14,"g":0.1261,"w":0.35},{"n":14,"g":0.1065,"w":0.2},{"n":14,"g":0.0869,"w":0.1},{"n":14,"g":0.0673,"w":0.04},{"n":14,"g":0.0542,"w":0},
  {"n":15,"g":0.227,"w":0},{"n":15,"g":0.2226,"w":0.4},{"n":15,"g":0.2138,"w":0.75},{"n":15,"g":0.2006,"w":0.95},{"n":15,"g":0.183,"w":1},{"n":15,"g":0.1637,"w":0.8},{"n":15,"g":0.1444,"w":0.55},{"n":15,"g":0.125,"w":0.35},{"n":15,"g":0.1057,"w":0.2},{"n":15,"g":0.0864,"w":0.1},{"n":15,"g":0.0671,"w":0.04},{"n":15,"g":0.0542,"w":0},
  {"n":16,"g":0.227,"w":0},{"n":16,"g":0.2224,"w":0.4},{"n":16,"g":0.2132,"w":0.75},{"n":16,"g":0.1994,"w":0.95},{"n":16,"g":0.181,"w":1},{"n":16,"g":0.162,"w":0.8},{"n":16,"g":0.1429,"w":0.55},{"n":16,"g":0.1239,"w":0.35},{"n":16,"g":0.1048,"w":0.2},{"n":16,"g":0.0858,"w":0.1},{"n":16,"g":0.0667,"w":0.04},{"n":16,"g":0.054,"w":0},
  {"n":17,"g":0.227,"w":0},{"n":17,"g":0.2223,"w":0.4},{"n":17,"g":0.2129,"w":0.75},{"n":17,"g":0.1988,"w":0.95},{"n":17,"g":0.18,"w":1},{"n":17,"g":0.1607,"w":0.8},{"n":17,"g":0.1415,"w":0.55},{"n":17,"g":0.1222,"w":0.35},{"n":17,"g":0.103,"w":0.2},{"n":17,"g":0.0837,"w":0.1},{"n":17,"g":0.0644,"w":0.04},{"n":17,"g":0.0516,"w":0},
  {"n":18,"g":0.227,"w":0},{"n":18,"g":0.2222,"w":0.4},{"n":18,"g":0.2126,"w":0.75},{"n":18,"g":0.1982,"w":0.95},{"n":18,"g":0.179,"w":1},{"n":18,"g":0.1603,"w":0.8},{"n":18,"g":0.1415,"w":0.55},{"n":18,"g":0.1228,"w":0.35},{"n":18,"g":0.104,"w":0.2},{"n":18,"g":0.0853,"w":0.1},{"n":18,"g":0.0665,"w":0.04},{"n":18,"g":0.054,"w":0},
  {"n":19,"g":0.227,"w":0},{"n":19,"g":0.2221,"w":0.4},{"n":19,"g":0.2123,"w":0.75},{"n":19,"g":0.1976,"w":0.95},{"n":19,"g":0.178,"w":1},{"n":19,"g":0.159,"w":0.8},{"n":19,"g":0.1399,"w":0.55},{"n":19,"g":0.1209,"w":0.35},{"n":19,"g":0.1018,"w":0.2},{"n":19,"g":0.0828,"w":0.1},{"n":19,"g":0.0637,"w":0.04},{"n":19,"g":0.051,"w":0},
  {"n":20,"g":0.227,"w":0},{"n":20,"g":0.222,"w":0.4},{"n":20,"g":0.212,"w":0.75},{"n":20,"g":0.197,"w":0.95},{"n":20,"g":0.177,"w":1},{"n":20,"g":0.1579,"w":0.8},{"n":20,"g":0.1389,"w":0.55},{"n":20,"g":0.1198,"w":0.35},{"n":20,"g":0.1007,"w":0.2},{"n":20,"g":0.0817,"w":0.1},{"n":20,"g":0.0626,"w":0.04},{"n":20,"g":0.0499,"w":0},
  {"n":21,"g":0.225,"w":0},{"n":21,"g":0.2201,"w":0.4},{"n":21,"g":0.2103,"w":0.75},{"n":21,"g":0.1956,"w":0.95},{"n":21,"g":0.176,"w":1},{"n":21,"g":0.1576,"w":0.8},{"n":21,"g":0.1391,"w":0.55},{"n":21,"g":0.1207,"w":0.35},{"n":21,"g":0.1022,"w":0.2},{"n":21,"g":0.0838,"w":0.1},{"n":21,"g":0.0653,"w":0.04},{"n":21,"g":0.053,"w":0},
  {"n":22,"g":0.2244,"w":0},{"n":22,"g":0.2195,"w":0.4},{"n":22,"g":0.2096,"w":0.75},{"n":22,"g":0.1948,"w":0.95},{"n":22,"g":0.175,"w":1},{"n":22,"g":0.1565,"w":0.8},{"n":22,"g":0.138,"w":0.55},{"n":22,"g":0.1195,"w":0.35},{"n":22,"g":0.101,"w":0.2},{"n":22,"g":0.0825,"w":0.1},{"n":22,"g":0.0639,"w":0.04},{"n":22,"g":0.0516,"w":0},
  {"n":23,"g":0.2235,"w":0},{"n":23,"g":0.2185,"w":0.4},{"n":23,"g":0.2083,"w":0.75},{"n":23,"g":0.1932,"w":0.95},{"n":23,"g":0.173,"w":1},{"n":23,"g":0.1552,"w":0.8},{"n":23,"g":0.1373,"w":0.55},{"n":23,"g":0.1195,"w":0.35},{"n":23,"g":0.1016,"w":0.2},{"n":23,"g":0.0838,"w":0.1},{"n":23,"g":0.0659,"w":0.04},{"n":23,"g":0.054,"w":0},
  {"n":24,"g":0.2226,"w":0},{"n":24,"g":0.2174,"w":0.4},{"n":24,"g":0.2071,"w":0.75},{"n":24,"g":0.1916,"w":0.95},{"n":24,"g":0.171,"w":1},{"n":24,"g":0.1535,"w":0.8},{"n":24,"g":0.1359,"w":0.55},{"n":24,"g":0.1184,"w":0.35},{"n":24,"g":0.1008,"w":0.2},{"n":24,"g":0.0833,"w":0.1},{"n":24,"g":0.0657,"w":0.04},{"n":24,"g":0.054,"w":0},
  {"n":25,"g":0.2226,"w":0},{"n":25,"g":0.2172,"w":0.4},{"n":25,"g":0.2065,"w":0.75},{"n":25,"g":0.1904,"w":0.95},{"n":25,"g":0.169,"w":1},{"n":25,"g":0.1522,"w":0.8},{"n":25,"g":0.1353,"w":0.55},{"n":25,"g":0.1185,"w":0.35},{"n":25,"g":0.1016,"w":0.2},{"n":25,"g":0.0848,"w":0.1},{"n":25,"g":0.0679,"w":0.04},{"n":25,"g":0.0567,"w":0},
  {"n":26,"g":0.222,"w":0},{"n":26,"g":0.2165,"w":0.4},{"n":26,"g":0.2055,"w":0.75},{"n":26,"g":0.189,"w":0.95},{"n":26,"g":0.167,"w":1},{"n":26,"g":0.1504,"w":0.8},{"n":26,"g":0.1337,"w":0.55},{"n":26,"g":0.1171,"w":0.35},{"n":26,"g":0.1004,"w":0.2},{"n":26,"g":0.0838,"w":0.1},{"n":26,"g":0.0671,"w":0.04},{"n":26,"g":0.056,"w":0},
  {"n":27,"g":0.219,"w":0},{"n":27,"g":0.2136,"w":0.4},{"n":27,"g":0.2028,"w":0.75},{"n":27,"g":0.1866,"w":0.95},{"n":27,"g":0.165,"w":1},{"n":27,"g":0.1486,"w":0.8},{"n":27,"g":0.1322,"w":0.55},{"n":27,"g":0.1158,"w":0.35},{"n":27,"g":0.0994,"w":0.2},{"n":27,"g":0.083,"w":0.1},{"n":27,"g":0.0665,"w":0.04},{"n":27,"g":0.0556,"w":0},
  {"n":28,"g":0.218,"w":0},{"n":28,"g":0.2125,"w":0.4},{"n":28,"g":0.2015,"w":0.75},{"n":28,"g":0.185,"w":0.95},{"n":28,"g":0.163,"w":1},{"n":28,"g":0.1475,"w":0.8},{"n":28,"g":0.132,"w":0.55},{"n":28,"g":0.1165,"w":0.35},{"n":28,"g":0.101,"w":0.2},{"n":28,"g":0.0855,"w":0.1},{"n":28,"g":0.0699,"w":0.04},{"n":28,"g":0.0596,"w":0},
  {"n":29,"g":0.2155,"w":0},{"n":29,"g":0.21,"w":0.4},{"n":29,"g":0.1992,"w":0.75},{"n":29,"g":0.1828,"w":0.95},{"n":29,"g":0.161,"w":1},{"n":29,"g":0.1459,"w":0.8},{"n":29,"g":0.1307,"w":0.55},{"n":29,"g":0.1156,"w":0.35},{"n":29,"g":0.1004,"w":0.2},{"n":29,"g":0.0853,"w":0.1},{"n":29,"g":0.0701,"w":0.04},{"n":29,"g":0.06,"w":0},
  {"n":30,"g":0.2094,"w":0},{"n":30,"g":0.2044,"w":0.4},{"n":30,"g":0.1943,"w":0.75},{"n":30,"g":0.1792,"w":0.95},{"n":30,"g":0.159,"w":1},{"n":30,"g":0.1449,"w":0.8},{"n":30,"g":0.1308,"w":0.55},{"n":30,"g":0.1167,"w":0.35},{"n":30,"g":0.1026,"w":0.2},{"n":30,"g":0.0885,"w":0.1},{"n":30,"g":0.0744,"w":0.04},{"n":30,"g":0.065,"w":0},
  {"n":31,"g":0.2054,"w":0},{"n":31,"g":0.2007,"w":0.4},{"n":31,"g":0.1912,"w":0.75},{"n":31,"g":0.177,"w":0.95},{"n":31,"g":0.158,"w":1},{"n":31,"g":0.1453,"w":0.8},{"n":31,"g":0.1326,"w":0.55},{"n":31,"g":0.1199,"w":0.35},{"n":31,"g":0.1072,"w":0.2},{"n":31,"g":0.0945,"w":0.1},{"n":31,"g":0.0818,"w":0.04},{"n":31,"g":0.0733,"w":0},
  {"n":32,"g":0.1965,"w":0},{"n":32,"g":0.19,"w":0.25},{"n":32,"g":0.18,"w":0.5},{"n":32,"g":0.17,"w":0.8},{"n":32,"g":0.162,"w":1},{"n":32,"g":0.155,"w":0.95},{"n":32,"g":0.148,"w":0.75},{"n":32,"g":0.14,"w":0.5},{"n":32,"g":0.13,"w":0.32},{"n":32,"g":0.12,"w":0.18},{"n":32,"g":0.105,"w":0.08},{"n":32,"g":0.0853,"w":0},
  {"n":33,"g":0.1796,"w":0},{"n":33,"g":0.1794,"w":0.3},{"n":33,"g":0.178,"w":0.3},{"n":33,"g":0.176,"w":0.12},{"n":33,"g":0.1735,"w":0.25},{"n":33,"g":0.1706,"w":0.3},{"n":33,"g":0.168,"w":0.15},{"n":33,"g":0.1645,"w":0.3},{"n":33,"g":0.1617,"w":0.55},{"n":33,"g":0.1545,"w":0.7},{"n":33,"g":0.15,"w":1},{"n":33,"g":0.1456,"w":0.5},{"n":33,"g":0.1413,"w":0.2},{"n":33,"g":0.1366,"w":0.3},{"n":33,"g":0.133,"w":0.12},{"n":33,"g":0.1276,"w":0.2},{"n":33,"g":0.123,"w":0.08},{"n":33,"g":0.1187,"w":0.15},{"n":33,"g":0.114,"w":0.07},{"n":33,"g":0.1097,"w":0.08},{"n":33,"g":0.1065,"w":0.08},{"n":33,"g":0.1056,"w":0.3},{"n":33,"g":0.1045,"w":0.3},{"n":33,"g":0.1043,"w":0}
 ],
 "rd": [{"n":34,"g":0.1484,"w":1}],
 "ld": [{"n":1,"t":"100"},{"n":2,"t":"100"},{"n":3,"t":"100"},{"n":4,"t":"100"},{"n":5,"t":"99"},{"n":6,"t":"98"},{"n":7,"t":"97"},{"n":8,"t":"96"},{"n":9,"t":"94"},{"n":10,"t":"92"},{"n":11,"t":"90"},{"n":12,"t":"89"},{"n":13,"t":"87"},{"n":14,"t":"86"},{"n":15,"t":"84"},{"n":16,"t":"82"},{"n":17,"t":"81"},{"n":18,"t":"80"},{"n":19,"t":"79"},{"n":20,"t":"77"},{"n":21,"t":"76"},{"n":22,"t":"75"},{"n":23,"t":"74"},{"n":24,"t":"74"},{"n":25,"t":"73"},{"n":26,"t":"72"},{"n":27,"t":"72"},{"n":28,"t":"72"},{"n":29,"t":"73"},{"n":30,"t":"73"},{"n":31,"t":"74"},{"n":32,"t":"76"},{"n":33,"t":"83"},{"n":34,"t":"100%"}]
},
"vconcat": [
 {
  "width": 203, "height": 155,
  "title": {"text": "a", "orient": "left", "anchor": "end", "angle": 0, "baseline": "top", "align": "right", "offset": -4, "dy": -3},
  "layer": [
   {
    "data": {"name": "va"},
    "transform": [{"calculate": "datum.n - 0.46*datum.w", "as": "lo"}, {"calculate": "datum.n + 0.46*datum.w", "as": "hi"}],
    "mark": {"type": "area", "orient": "horizontal", "interpolate": "monotone"},
    "encoding": {
     "x": {"field": "lo", "type": "quantitative", "scale": {"domain": [0.807, 10.59], "nice": false, "zero": false}, "axis": {"values": [1,2,3,4,5,6,7,8,9,10], "tickCount": 40, "format": "d", "title": "Num. random amino acid substitutions", "labelPadding": -3, "titlePadding": 0, "labelOverlap": false}},
     "x2": {"field": "hi"},
     "y": {"field": "g", "type": "quantitative", "scale": {"domain": [0.013, 0.1763], "nice": false, "zero": false}, "axis": {"values": [0.05, 0.1, 0.15, 0.1437], "tickCount": 40, "offset": 7, "labelExpr": "datum.value > 0.14 && datum.value < 0.147 ? 'WT' : format(datum.value, '.2f')", "labelBaseline": {"condition": {"test": "datum.value > 0.14 && datum.value < 0.147", "value": "top"}, "value": "middle"}, "title": ["Simulated AbundancePCA", "growth rate (PSD95-PDZ3)"], "labelPadding": 2, "titlePadding": -2, "labelOverlap": false}},
     "color": {"field": "n", "type": "quantitative", "scale": {"domain": [1, 10], "range": ["#2B3DBE", "#F2301E"], "interpolate": "lab"}, "legend": null},
     "detail": {"field": "n"}
    }
   },
   {"mark": {"type": "rule", "color": "#000", "strokeWidth": 1}, "encoding": {"y": {"datum": 0.1437}}},
   {"mark": {"type": "rule", "color": "#000", "strokeWidth": 1, "strokeDash": [5, 4]}, "encoding": {"y": {"datum": 0.0898}}},
   {
    "data": {"name": "la"},
    "transform": [{"filter": "datum.n < 10"}],
    "mark": {"type": "text", "fontSize": 11, "baseline": "middle"},
    "encoding": {"x": {"field": "n", "type": "quantitative"}, "y": {"datum": 0.1763}, "text": {"field": "t"}, "color": {"field": "n", "type": "quantitative", "legend": null}}
   },
   {
    "data": {"name": "la"},
    "transform": [{"filter": "datum.n == 10"}],
    "mark": {"type": "text", "fontSize": 11, "baseline": "middle", "dx": 6},
    "encoding": {"x": {"field": "n", "type": "quantitative"}, "y": {"datum": 0.1763}, "text": {"field": "t"}, "color": {"field": "n", "type": "quantitative", "legend": null}}
   },
   {"mark": {"type": "text", "fontSize": 11, "align": "right", "color": "#000"}, "encoding": {"x": {"datum": 10.55}, "y": {"datum": 0.1644}, "text": {"value": "n = 100,000"}}}
  ]
 },
 {
  "width": 318, "height": 154,
  "title": {"text": "b", "orient": "left", "anchor": "end", "angle": 0, "baseline": "top", "align": "right", "offset": -2, "dy": 1},
  "data": {"name": "pb"},
  "layer": [
   {"mark": {"type": "rule", "color": "#000", "strokeWidth": 1, "strokeDash": [5, 4]}, "encoding": {"y": {"datum": 0.13}}},
   {"mark": {"type": "rule", "color": "#000", "strokeWidth": 1, "strokeDash": [5, 4]}, "encoding": {"x": {"datum": 34}}},
   {
    "mark": {"type": "line", "strokeWidth": 1},
    "encoding": {
     "x": {"field": "n", "type": "quantitative", "scale": {"domain": [-1.11, 57.6], "nice": false, "zero": false}, "axis": {"values": [0, 10, 20, 30, 34, 40, 50], "tickCount": 40, "title": "Num. optimised amino acid substitutions", "labelPadding": 0, "titlePadding": 4, "labelOverlap": false}},
     "y": {"field": "v", "type": "quantitative", "scale": {"domain": [-0.0116, 0.2298], "nice": false, "zero": false}, "axis": {"values": [0, 0.05, 0.1, 0.15, 0.2], "tickCount": 40, "format": ".2f", "title": ["Simulated median", "growth rate (GRB2-SH3)"], "labelPadding": 2, "titlePadding": 1}},
     "color": {"field": "s", "type": "nominal", "scale": {"domain": ["AbundancePCA", "BindingPCA", "Geometric mean"], "range": ["#3645BE", "#EE3A26", "#000000"]}, "legend": {"title": null, "orient": "none", "legendX": 243, "legendY": 0, "labelFontSize": 11, "labelColor": "#000", "symbolType": "M-1,0L1,0M-0.3,0a0.3,0.3 0 1,0 0.6,0a0.3,0.3 0 1,0 -0.6,0", "symbolSize": 150, "symbolStrokeWidth": 1, "rowPadding": 3, "labelOffset": 6}}
    }
   },
   {
    "mark": {"type": "point", "filled": true, "size": 12, "opacity": 1},
    "encoding": {"x": {"field": "n", "type": "quantitative"}, "y": {"field": "v", "type": "quantitative"}, "color": {"field": "s", "type": "nominal"}}
   }
  ]
 },
 {
  "width": 588, "height": 180,
  "title": {"text": "c", "orient": "left", "anchor": "end", "angle": 0, "baseline": "top", "align": "right", "offset": -4, "dy": -1},
  "layer": [
   {
    "data": {"name": "vc"},
    "transform": [{"calculate": "datum.n - 0.47*datum.w", "as": "lo"}, {"calculate": "datum.n + 0.47*datum.w", "as": "hi"}],
    "mark": {"type": "area", "orient": "horizontal", "interpolate": "monotone"},
    "encoding": {
     "x": {"field": "lo", "type": "quantitative", "scale": {"domain": [0.5, 34.9], "nice": false, "zero": false}, "axis": {"values": [1,2,3,4,5,6,7,8,9,10,11,12,13,14,15,16,17,18,19,20,21,22,23,24,25,26,27,28,29,30,31,32,33,34], "tickCount": 40, "format": "d", "title": "Num. optimised amino acid substitutions", "labelPadding": 3, "titlePadding": 3, "labelOverlap": false}},
     "x2": {"field": "hi"},
     "y": {"field": "g", "type": "quantitative", "scale": {"domain": [-0.0105, 0.178], "nice": false, "zero": false}, "axis": {"values": [0, 0.05, 0.1, 0.15], "tickCount": 40, "format": ".2f", "title": ["Simulated AbundancePCA", "growth rate (GRB2-SH3)"], "labelPadding": 3, "titlePadding": 4}},
     "color": {"field": "n", "type": "quantitative", "scale": {"domain": [1, 34], "range": ["#2B3DBE", "#F2301E"], "interpolate": "lab"}, "legend": null},
     "detail": {"field": "n"}
    }
   },
   {
    "data": {"name": "rc"},
    "transform": [{"calculate": "datum.n - 0.47*datum.w", "as": "lo"}, {"calculate": "datum.n + 0.47*datum.w", "as": "hi"}],
    "mark": {"type": "rule", "color": "#F07468", "strokeWidth": 1.2},
    "encoding": {"x": {"field": "lo", "type": "quantitative"}, "x2": {"field": "hi"}, "y": {"field": "g", "type": "quantitative"}}
   },
   {"mark": {"type": "rule", "color": "#000", "strokeWidth": 1}, "encoding": {"y": {"datum": 0.133}}},
   {"mark": {"type": "rule", "color": "#000", "strokeWidth": 1, "strokeDash": [5, 4]}, "encoding": {"y": {"datum": 0.083}}},
   {
    "data": {"name": "lc"},
    "transform": [{"filter": "datum.n < 34"}],
    "mark": {"type": "text", "fontSize": 10.5, "baseline": "middle"},
    "encoding": {"x": {"field": "n", "type": "quantitative"}, "y": {"datum": 0.1748}, "text": {"field": "t"}, "color": {"field": "n", "type": "quantitative", "legend": null}}
   },
   {
    "data": {"name": "lc"},
    "transform": [{"filter": "datum.n == 34"}],
    "mark": {"type": "text", "fontSize": 10.5, "baseline": "middle", "dx": 6},
    "encoding": {"x": {"field": "n", "type": "quantitative"}, "y": {"datum": 0.1748}, "text": {"field": "t"}, "color": {"field": "n", "type": "quantitative", "legend": null}}
   },
   {"mark": {"type": "text", "fontSize": 11, "color": "#222"}, "encoding": {"x": {"datum": 33.7}, "y": {"datum": 0.1445}, "text": {"value": "WT"}}},
   {"mark": {"type": "text", "fontSize": 11, "align": "left", "color": "#000"}, "encoding": {"x": {"datum": 1.1}, "y": {"datum": 0.001}, "text": {"value": "n = 340,000"}}}
  ]
 },
 {
  "width": 588, "height": 179,
  "title": {"text": "d", "orient": "left", "anchor": "end", "angle": 0, "baseline": "top", "align": "right", "offset": -4, "dy": -1},
  "layer": [
   {
    "data": {"name": "vd"},
    "transform": [{"calculate": "datum.n - 0.47*datum.w", "as": "lo"}, {"calculate": "datum.n + 0.47*datum.w", "as": "hi"}],
    "mark": {"type": "area", "orient": "horizontal", "interpolate": "monotone"},
    "encoding": {
     "x": {"field": "lo", "type": "quantitative", "scale": {"domain": [0.5, 34.9], "nice": false, "zero": false}, "axis": {"values": [1,2,3,4,5,6,7,8,9,10,11,12,13,14,15,16,17,18,19,20,21,22,23,24,25,26,27,28,29,30,31,32,33,34], "tickCount": 40, "format": "d", "title": "Num. optimised amino acid substitutions", "labelPadding": 3, "titlePadding": 4, "labelOverlap": false}},
     "x2": {"field": "hi"},
     "y": {"field": "g", "type": "quantitative", "scale": {"domain": [0.0417, 0.234], "nice": false, "zero": false}, "axis": {"values": [0.05, 0.1, 0.15, 0.2], "tickCount": 40, "format": ".2f", "title": ["Simulated BindingPCA", "growth rate (GRB2-SH3)"], "labelPadding": 3, "titlePadding": 4}},
     "color": {"field": "n", "type": "quantitative", "scale": {"domain": [1, 34], "range": ["#2B3DBE", "#F2301E"], "interpolate": "lab"}, "legend": null},
     "detail": {"field": "n"}
    }
   },
   {
    "data": {"name": "rd"},
    "transform": [{"calculate": "datum.n - 0.47*datum.w", "as": "lo"}, {"calculate": "datum.n + 0.47*datum.w", "as": "hi"}],
    "mark": {"type": "rule", "color": "#F07468", "strokeWidth": 1.2},
    "encoding": {"x": {"field": "lo", "type": "quantitative"}, "x2": {"field": "hi"}, "y": {"field": "g", "type": "quantitative"}}
   },
   {"mark": {"type": "rule", "color": "#000", "strokeWidth": 1}, "encoding": {"y": {"datum": 0.1975}}},
   {"mark": {"type": "rule", "color": "#000", "strokeWidth": 1, "strokeDash": [5, 4]}, "encoding": {"y": {"datum": 0.1373}}},
   {
    "data": {"name": "ld"},
    "transform": [{"filter": "datum.n < 34"}],
    "mark": {"type": "text", "fontSize": 10.5, "baseline": "middle"},
    "encoding": {"x": {"field": "n", "type": "quantitative"}, "y": {"datum": 0.2359}, "text": {"field": "t"}, "color": {"field": "n", "type": "quantitative", "legend": null}}
   },
   {
    "data": {"name": "ld"},
    "transform": [{"filter": "datum.n == 34"}],
    "mark": {"type": "text", "fontSize": 10.5, "baseline": "middle", "dx": 7},
    "encoding": {"x": {"field": "n", "type": "quantitative"}, "y": {"datum": 0.2359}, "text": {"field": "t"}, "color": {"field": "n", "type": "quantitative", "legend": null}}
   },
   {"mark": {"type": "text", "fontSize": 11, "color": "#222"}, "encoding": {"x": {"datum": 33.7}, "y": {"datum": 0.2083}, "text": {"value": "WT"}}},
   {"mark": {"type": "text", "fontSize": 11, "align": "left", "color": "#000"}, "encoding": {"x": {"datum": 1.2}, "y": {"datum": 0.0534}, "text": {"value": "n = 340,000"}}}
  ]
 }
]
}
